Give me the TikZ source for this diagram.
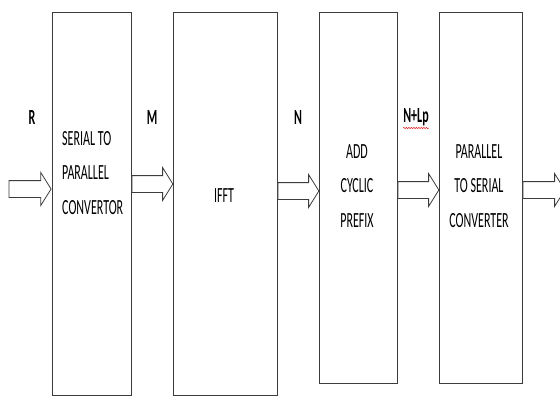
\documentclass[tikz,border=0pt]{standalone}
\usepackage{fontspec}
\setmainfont{Carlito}
\usetikzlibrary{shapes.arrows,positioning,calc,decorations.pathmorphing}
\definecolor{boxgray}{RGB}{60,60,60}
\definecolor{spellred}{RGB}{225,30,30}

\tikzset{
  block/.style={draw=boxgray, line width=0.9pt, fill=white, inner sep=0pt},
  blockarr/.style={single arrow, draw=boxgray, line width=0.8pt, fill=white,
    inner xsep=0pt, inner ysep=8pt, minimum width=32pt,
    single arrow head extend=8pt, single arrow tip angle=116},
  boxtext/.style={font=\fontsize{12}{19}\selectfont, inner sep=0pt,
    yscale=1.8, transform shape},
  rate/.style={font=\bfseries\fontsize{12}{14}\selectfont, inner sep=0pt,
    yscale=1.8, transform shape}
}

\begin{document}
\begin{tikzpicture}[x=1pt,y=-1pt]
\useasboundingbox (0,0) rectangle (560,396);

% processing blocks
\node[block, minimum width=79pt, minimum height=383pt] (s2p) at (91.5,203.5) {};
\node[block, minimum width=104pt, minimum height=383pt] (ifft) at (225,203.5) {};
\node[block, minimum width=78pt, minimum height=371pt] (cp) at (358,197.5) {};
\node[block, minimum width=83pt, minimum height=371pt] (p2s) at (480.5,197.5) {};

% block texts
\node[boxtext, align=left, anchor=west] (s2ptext) at (62,173) {SERIAL TO\\PARALLEL\\CONVERTOR};
\node[boxtext] (iffttext) at (224,196) {IFFT};
\node[boxtext, align=center] (cptext) at (357,186) {ADD\\CYCLIC\\PREFIX};
\node[boxtext, align=center] (p2stext) at (479,186) {PARALLEL\\TO SERIAL\\CONVERTER};

% signal arrows
\node[blockarr, minimum height=42pt, anchor=tip] (a1) at (s2p.west |- 0,189) {};
\node[blockarr, minimum height=41pt, anchor=tail] (a2) at (s2p.east |- 0,184) {};
\node[blockarr, minimum height=41pt, anchor=tail] (a3) at (ifft.east |- 0,191) {};
\node[blockarr, minimum height=41pt, anchor=tail] (a4) at (cp.east |- 0,190) {};
\node[blockarr, minimum height=42pt, anchor=tail] (a5) at (p2s.east |- 0,190) {};

% rates
\node[rate] (r) at (32,117) {R};
\node[rate] (m) at (152,117) {M};
\node[rate] (n) at (298,117) {N};
\node[rate] (nlp) at (416,117) {N+Lp};
\draw[spellred, line width=0.5pt, decorate,
  decoration={snake, amplitude=0.7pt, segment length=2.5pt}]
  ([yshift=-2pt]nlp.south west) -- ([yshift=-2pt]nlp.south east);
\end{tikzpicture}
\end{document}
